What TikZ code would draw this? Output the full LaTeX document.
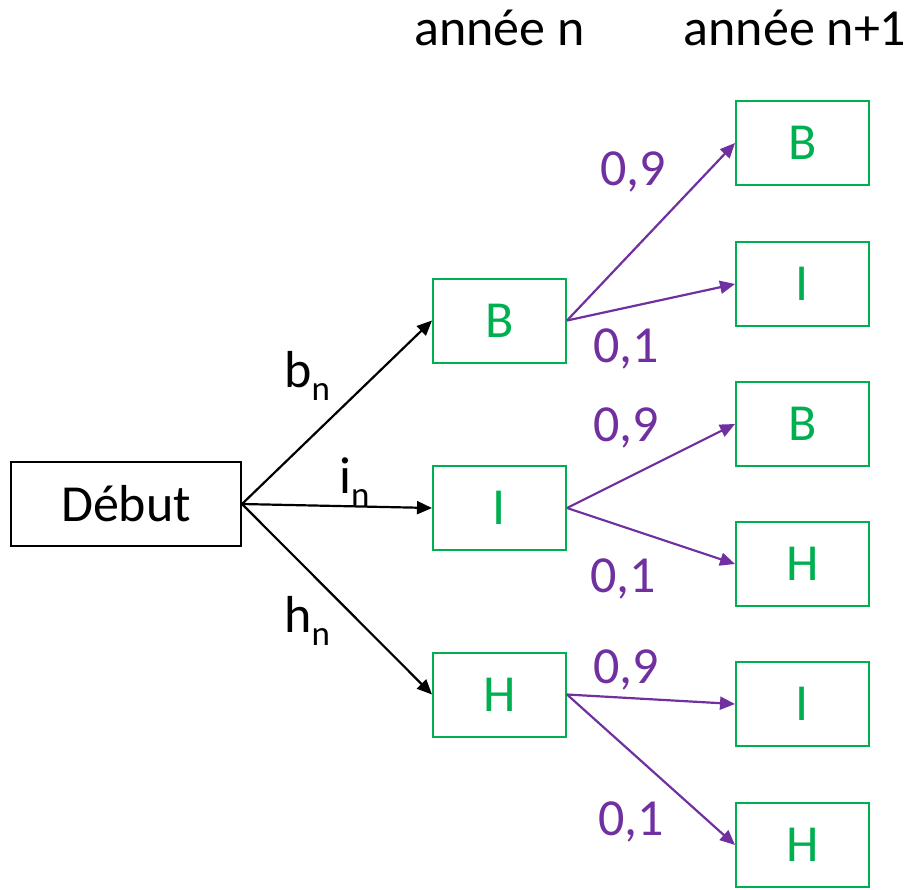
\documentclass[tikz,border=0pt]{standalone}
\usepackage{fontspec}
\setmainfont{Carlito}
\usetikzlibrary{arrows.meta}
\definecolor{grn}{RGB}{0,176,80}
\definecolor{prp}{RGB}{112,48,160}
\tikzset{
  big/.style={font=\fontsize{52}{60}\selectfont},
  gbox/.style={draw=grn, line width=2pt, text=grn, minimum width=133pt, minimum height=84pt, inner sep=0pt, big},
  kbox/.style={draw=black, line width=2pt, minimum width=230pt, minimum height=84pt, inner sep=0pt, big},
  karr/.style={draw=black, line width=2.2pt, -{Triangle[length=15pt,width=13pt]}},
  parr/.style={draw=prp, line width=2.2pt, -{Triangle[length=15pt,width=13pt]}},
  plab/.style={text=prp, big, anchor=base west, inner sep=0pt},
  klab/.style={big, anchor=base west, inner sep=0pt},
  hdr/.style={big, anchor=base, inner sep=0pt}
}
\newcommand{\subn}{\raisebox{-13pt}{\fontsize{35}{40}\selectfont n}}
\begin{document}
\begin{tikzpicture}[x=1pt,y=-1pt]
\useasboundingbox (0,0) rectangle (912,889);
\node[hdr] (h1) at (499.5,45) {année n};
\node[hdr] (h2) at (795,45) {année n+1};
\node[kbox] (debut) at (126,504) {Début};
\node[gbox] (mB) at (499.5,320.5) {B};
\node[gbox] (mI) at (499.5,508) {I};
\node[gbox] (mH) at (499.5,694.5) {H};
\node[gbox] (r1) at (802.5,143) {B};
\node[gbox] (r2) at (802.5,284) {I};
\node[gbox] (r3) at (802.5,424) {B};
\node[gbox] (r4) at (802.5,564) {H};
\node[gbox] (r5) at (802.5,704) {I};
\node[gbox] (r6) at (802.5,845) {H};
\draw[karr] (debut.east) -- (mB.west);
\draw[karr] (debut.east) -- (mI.west);
\draw[karr] (debut.east) -- (mH.west);
\draw[parr] (mB.east) -- (r1.west);
\draw[parr] (mB.east) -- (r2.west);
\draw[parr] (mI.east) -- (r3.west);
\draw[parr] (mI.east) -- (r4.west);
\draw[parr] (mH.east) -- (r5.west);
\draw[parr] (mH.east) -- (r6.west);
\node[klab] (lb) at (284,387) {b\subn};
\node[klab] (li) at (339,493) {i\subn};
\node[klab] (lh) at (284,632) {h\subn};
\node[plab] (p1) at (600,185) {0,9};
\node[plab] (p2) at (593,362) {0,1};
\node[plab] (p3) at (593,441) {0,9};
\node[plab] (p4) at (590,592) {0,1};
\node[plab] (p5) at (593,683) {0,9};
\node[plab] (p6) at (598,835) {0,1};
\end{tikzpicture}
\end{document}
